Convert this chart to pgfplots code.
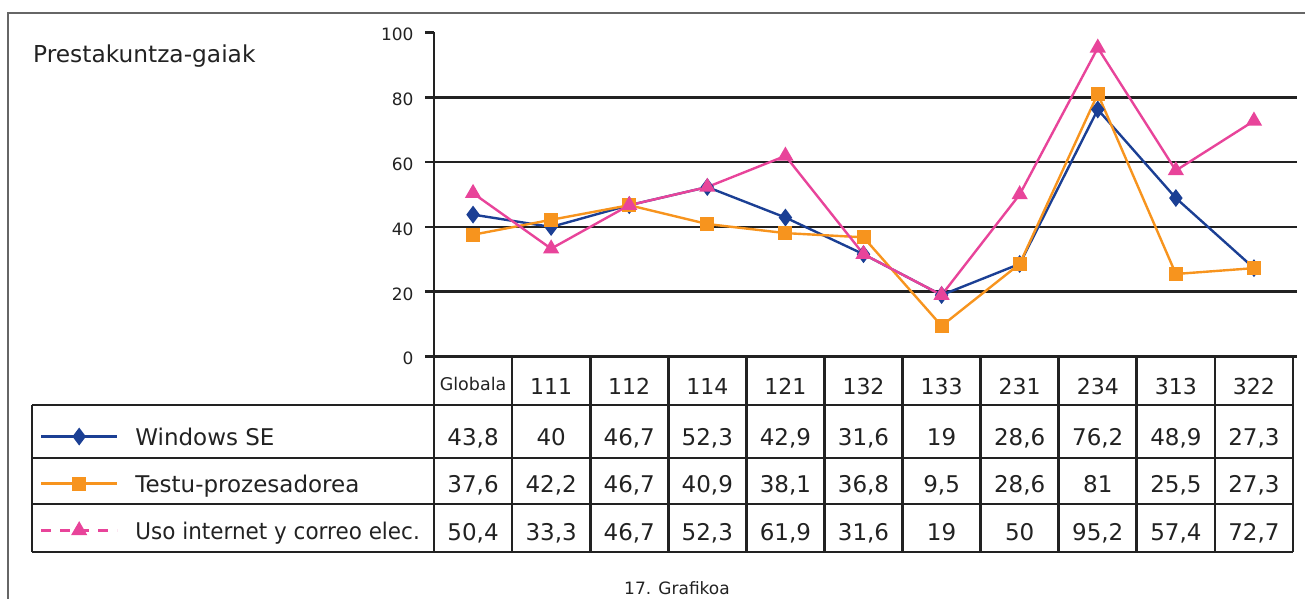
\documentclass[border=0pt]{standalone}
\usepackage{pgfplots}
\pgfplotsset{compat=1.18}
\usepackage{graphicx}
\usepackage{fontspec}
\setmainfont{DejaVu Sans}
\definecolor{wblue}{HTML}{1B3F94}
\definecolor{torange}{HTML}{F7941E}
\definecolor{upink}{HTML}{E8449A}
\definecolor{lnk}{HTML}{222222}
\definecolor{frm}{HTML}{666666}

\pgfplotstableread{
x  win  tes  uso
0  43.8 37.6 50.4
1  40   42.2 33.3
2  46.7 46.7 46.7
3  52.3 40.9 52.3
4  42.9 38.1 61.9
5  31.6 36.8 31.6
6  19   9.5  19
7  28.6 28.6 50
8  76.2 81   95.2
9  48.9 25.5 57.4
10 27.3 27.3 72.7
}\datatab

\begin{document}
\begin{tikzpicture}[x=1pt,y=1pt]
\useasboundingbox (0,0) rectangle (1305,-599);
% outer frame
\draw[frm, line width=2.2pt] (8,-600) -- (8,-13) -- (1306,-13);
% title
\node[anchor=base west, inner sep=0pt, text=lnk, font=\fontsize{23.3}{23.3}\selectfont] at (33,-63) {Prestakuntza-gaiak};
\begin{axis}[
  at={(434pt,-356.7pt)}, anchor=south west,
  scale only axis, width=859pt, height=324.4pt,
  xmin=-0.5, xmax=10.5, ymin=0, ymax=100,
  axis x line=none, axis y line*=left,
  ytick={0,20,...,100}, xtick=\empty,
  tick align=outside, major tick length=9pt,
  y axis line style={line width=2.8pt, lnk},
  ytick style={line width=2.8pt, lnk},
  yticklabel style={font=\fontsize{17}{17}\selectfont, text=lnk, yshift=-2pt, xshift=-8pt},
  /pgf/number format/assume math mode=true,
  clip=false,
  legend cell align=left,
  legend image code/.code={\draw[mark repeat=2,mark phase=2,#1] plot coordinates {(0pt,0pt) (38pt,0pt) (76pt,0pt)};},
  legend style={draw=none, fill=none, at={(axis description cs:-0.4587,-0.2198)}, anchor=north west,
    inner sep=0pt, outer sep=0pt, row sep=30pt, column sep=17pt,
    font=\fontsize{23}{23}\selectfont, text=lnk,
    nodes={inner sep=0pt, text height=17pt, text depth=0pt}},
]
\foreach \v in {0,20,40,60,80}{
  \edef\tmp{\noexpand\draw[lnk, line width=2.8pt] (axis cs:-0.5,\v) -- (axis cs:10.55,\v);}\tmp
}
\addplot[wblue, line width=2.4pt, mark=diamond*, mark size=7pt, mark options={solid}] table[x=x, y=win] {\datatab};
\addlegendentry{Windows SE}
\addplot[torange, line width=2.4pt, mark=square*, mark size=5.8pt, mark options={solid}] table[x=x, y=tes] {\datatab};
\addlegendentry{Testu-prozesadorea}
\addplot[upink, line width=2.4pt, mark=triangle*, mark size=7pt, mark options={solid}, forget plot] table[x=x, y=uso] {\datatab};
\addlegendimage{upink, line width=2.4pt, dash pattern=on 10pt off 9pt, dash phase=0pt, mark=triangle*, mark size=7pt, mark options={solid}}
\addlegendentry{\scalebox{0.935}[1]{Uso internet y correo elec.}}
\end{axis}
% data table grid
\begin{scope}[lnk, line width=2.8pt]
\foreach \yy in {405,458,504,552} \draw (32,-\yy) -- (1293,-\yy);
\draw (32,-405) -- (32,-552);
\foreach \k in {0,...,11} \draw ({434+78.09*\k},-356.7) -- ({434+78.09*\k},-552);
\end{scope}
% header row
\node[anchor=base, inner sep=0pt, text=lnk, font=\fontsize{17.5}{17.5}\selectfont] at ({434+78.09*0.5},-390) {Globala};
\foreach \lab [count=\i] in {111,112,114,121,132,133,231,234,313,322}
  \node[anchor=base, inner sep=0pt, text=lnk, font=\fontsize{22}{22}\selectfont] at ({434+78.09*(\i+0.5)},-394) {\lab};
% values
\foreach \val [count=\i from 0] in {43{,}8,40,46{,}7,52{,}3,42{,}9,31{,}6,19,28{,}6,76{,}2,48{,}9,27{,}3}
  \node[anchor=base, inner sep=0pt, text=lnk, font=\fontsize{23}{23}\selectfont] at ({434+78.09*(\i+0.5)},-445) {\val};
\foreach \val [count=\i from 0] in {37{,}6,42{,}2,46{,}7,40{,}9,38{,}1,36{,}8,9{,}5,28{,}6,81,25{,}5,27{,}3}
  \node[anchor=base, inner sep=0pt, text=lnk, font=\fontsize{23}{23}\selectfont] at ({434+78.09*(\i+0.5)},-492) {\val};
\foreach \val [count=\i from 0] in {50{,}4,33{,}3,46{,}7,52{,}3,61{,}9,31{,}6,19,50,95{,}2,57{,}4,72{,}7}
  \node[anchor=base, inner sep=0pt, text=lnk, font=\fontsize{23}{23}\selectfont] at ({434+78.09*(\i+0.5)},-540) {\val};
% caption
\node[anchor=base, inner sep=0pt, text=lnk, font=\fontsize{17}{17}\selectfont] at (677,-594) {17. Grafikoa};
\end{tikzpicture}
\end{document}
